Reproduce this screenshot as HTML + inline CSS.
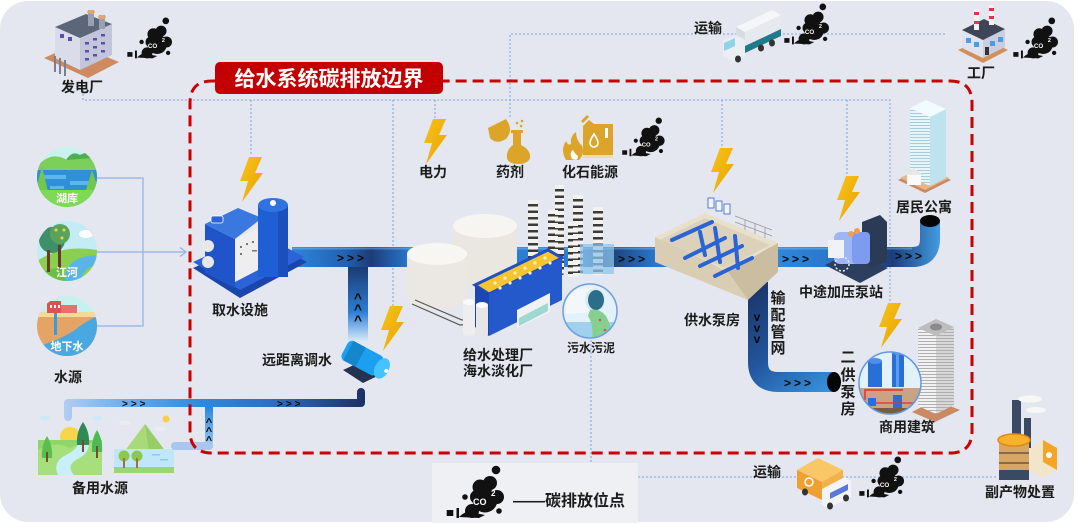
<!DOCTYPE html>
<html><head><meta charset="utf-8">
<style>
html,body{margin:0;padding:0;background:#fff;}
svg{display:block;}
text{font-family:"Liberation Sans","Noto Sans CJK SC",sans-serif;font-weight:bold;}
.l{font-size:14px;fill:#1b1b1b;text-anchor:middle;}
.w{font-size:11px;fill:#fff;text-anchor:middle;}
.ar{font-size:12px;fill:#0a0a0a;letter-spacing:3px;}
.c2{font-size:8px;fill:#fff;font-family:"Liberation Sans",sans-serif;}
</style></head><body>
<svg width="1080" height="523" viewBox="0 0 1080 523" xmlns="http://www.w3.org/2000/svg">
<defs>
<linearGradient id="gMain" gradientUnits="userSpaceOnUse" x1="290" y1="0" x2="945" y2="0">
<stop offset="0" stop-color="#2f86dc"/><stop offset="0.085" stop-color="#2262b0"/><stop offset="0.123" stop-color="#1c3c78"/><stop offset="0.185" stop-color="#2a7ad0"/><stop offset="0.44" stop-color="#2d7fd4"/><stop offset="0.477" stop-color="#1b3768"/><stop offset="0.56" stop-color="#2a78cf"/><stop offset="0.75" stop-color="#2f86da"/><stop offset="0.84" stop-color="#2a72c6"/><stop offset="0.92" stop-color="#1c3d7a"/><stop offset="1" stop-color="#46a6ec"/>
</linearGradient>
<linearGradient id="gDist" gradientUnits="userSpaceOnUse" x1="758" y1="282" x2="834" y2="392">
<stop offset="0" stop-color="#1b3568"/><stop offset="0.5" stop-color="#22549c"/><stop offset="1" stop-color="#3896e2"/>
</linearGradient>
<linearGradient id="gPumpV" x1="0" y1="0" x2="0" y2="1">
<stop offset="0" stop-color="#1c3a74"/><stop offset="0.6" stop-color="#2b7ed4"/><stop offset="1" stop-color="#dcedfb"/>
</linearGradient>
<linearGradient id="gLow" gradientUnits="userSpaceOnUse" x1="64" y1="0" x2="366" y2="0">
<stop offset="0" stop-color="#b2cdf2"/><stop offset="0.25" stop-color="#5aa6ee"/><stop offset="0.45" stop-color="#2b8be0"/><stop offset="0.7" stop-color="#2a6ec4"/><stop offset="1" stop-color="#1d2f60"/>
</linearGradient>
<linearGradient id="gBr" x1="0" y1="0" x2="0" y2="1">
<stop offset="0" stop-color="#2a86de"/><stop offset="1" stop-color="#9ccaf2"/>
</linearGradient>
<linearGradient id="gBolt" x1="0" y1="0" x2="1" y2="1">
<stop offset="0" stop-color="#f8c21a"/><stop offset="1" stop-color="#e9a300"/>
</linearGradient>
<pattern id="pWin" width="4" height="3" patternUnits="userSpaceOnUse"><rect width="4" height="3" fill="none"/><rect y="2" width="4" height="0.8" fill="#9dbfd0"/></pattern>
<pattern id="pStr" width="4" height="3" patternUnits="userSpaceOnUse"><rect y="2" width="4" height="0.9" fill="#a9a9a9"/></pattern>
<g id="bolt"><path d="M11,0 H24 L17,16 H25 L4,45 L10,24 H2 Z" fill="url(#gBolt)"/></g>
<g id="cloud">
<rect x="1.7" y="45" width="6.6" height="6" fill="#111"/>
<rect x="11.5" y="43" width="2.5" height="10" fill="#111"/>
<circle cx="35" cy="22" r="7.5" fill="#111"/>
<circle cx="45" cy="18" r="7" fill="#111"/>
<circle cx="40" cy="35" r="12.5" fill="#111"/>
<circle cx="27" cy="46" r="7" fill="#111"/>
<circle cx="52" cy="32" r="7" fill="#111"/>
<circle cx="32" cy="32" r="7" fill="#111"/>
<path d="M14,52 Q22,44 30,48 L40,50 L34,53 Z" fill="#111"/>
<circle cx="20" cy="32" r="2.8" fill="#111"/>
<circle cx="51" cy="5" r="4.3" fill="#111"/>
<circle cx="54" cy="46" r="2.8" fill="#111"/>
</g>
<clipPath id="cp1"><circle cx="67" cy="177" r="30"/></clipPath>
<clipPath id="cp2"><circle cx="67" cy="251" r="30"/></clipPath>
<clipPath id="cp3"><circle cx="67" cy="326" r="30"/></clipPath>
<clipPath id="cp4"><circle cx="590" cy="311" r="27"/></clipPath>
<clipPath id="cp5"><circle cx="890" cy="383" r="31"/></clipPath>
</defs>

<!-- card -->
<rect x="0" y="1" width="1074" height="521" rx="28" fill="#e4e7ef"/>

<!-- dotted lines -->
<g stroke="#7fa3dd" stroke-width="1" stroke-dasharray="2 2" fill="none">
<path d="M83,90 V100 H890 V303"/>
<path d="M251,100 V156"/>
<path d="M393,100 V306"/>
<path d="M435,100 V118"/>
<path d="M722,100 V148"/>
<path d="M847,100 V177"/>
<path d="M510,117 V34 H947"/>
<path d="M591,340 V477 H998"/>
</g>

<!-- water source connectors -->
<g stroke="#8fb0e3" stroke-width="1.2" fill="none">
<path d="M97,178 H143 V326 H97"/>
<path d="M97,252 H186"/>
<path d="M180,247.5 L186,252 L180,256.5"/>
</g>

<!-- water source circles -->
<g clip-path="url(#cp1)">
<rect x="36" y="146" width="62" height="62" fill="#c9f2ee"/>
<path d="M36,168 Q50,150 67,160 Q82,148 98,163 V182 H36 Z" fill="#7ccf5a"/>
<path d="M66,160 Q72,150 80,155 Q88,150 92,158 Z" fill="#4caf50"/>
<rect x="36" y="170" width="62" height="22" fill="#2f8fd8"/>
<rect x="44" y="175" width="22" height="4" fill="#5fb6ec"/>
<rect x="70" y="181" width="20" height="4" fill="#5fb6ec"/>
<rect x="50" y="186" width="14" height="3" fill="#5fb6ec"/>
<path d="M36,208 V190 L42,166 L48,192 L56,190 Z" fill="#72c84c"/>
<path d="M98,208 V188 L92,170 L86,190 L80,192 Z" fill="#72c84c"/>
<rect x="36" y="190" width="62" height="18" fill="#7ed957"/>
</g>
<text class="w" x="67" y="202">湖库</text>
<g clip-path="url(#cp2)">
<rect x="36" y="220" width="62" height="62" fill="#c3ecf4"/>
<ellipse cx="86" cy="234" rx="7" ry="4" fill="#fff"/>
<path d="M36,262 Q60,244 98,250 V282 H36 Z" fill="#8bcf4f"/>
<path d="M66,282 Q62,266 80,258 Q92,254 98,256 V265 Q84,266 80,282 Z" fill="#5ab4e6"/>
<path d="M36,282 Q40,268 62,268 L66,282 Z" fill="#6bbf45"/>
<circle cx="52" cy="240" r="13" fill="#3f8f6b"/>
<circle cx="60" cy="234" r="10" fill="#5aa35a"/>
<circle cx="56" cy="230" r="1.5" fill="#f3d34a"/><circle cx="62" cy="238" r="1.5" fill="#f3d34a"/><circle cx="64" cy="230" r="1.5" fill="#f3d34a"/>
<rect x="47" y="250" width="3" height="22" fill="#6b3b2a"/>
<rect x="58" y="245" width="3" height="24" fill="#6b3b2a"/>
</g>
<text class="w" x="67" y="276">江河</text>
<g clip-path="url(#cp3)">
<rect x="36" y="295" width="62" height="62" fill="#c7f1ee"/>
<rect x="36" y="313" width="62" height="44" fill="#e3a466"/>
<rect x="36" y="312" width="62" height="5" fill="#f3d99a"/>
<rect x="47" y="301" width="14" height="12" fill="#d9534f"/>
<rect x="61" y="305" width="16" height="8" fill="#e27470"/>
<rect x="50" y="305" width="2" height="3" fill="#fff"/><rect x="54" y="305" width="2" height="3" fill="#fff"/><rect x="58" y="305" width="2" height="3" fill="#fff"/>
<rect x="54" y="313" width="3" height="22" fill="#3b9be0"/>
<path d="M36,347 Q66,338 80,326 Q92,318 98,316 V357 H36 Z" fill="#4aa8e0"/>
</g>
<text class="w" x="67" y="350">地下水</text>

<!-- backup water scenes -->
<g>
<ellipse cx="45" cy="418" rx="5" ry="2.5" fill="#cfe8f5"/>
<ellipse cx="97" cy="418" rx="5" ry="2.5" fill="#cfe8f5"/>
<circle cx="70" cy="437" r="10" fill="#f9d649"/>
<rect x="38" y="440" width="64" height="35" fill="#8fd56a"/>
<path d="M38,450 Q55,440 70,448 Q86,440 102,446 V475 H38 Z" fill="#a7df7c"/>
<path d="M58,475 Q52,462 66,455 Q80,448 78,440 L88,440 Q92,452 76,460 Q66,466 74,475 Z" fill="#c8f0fb"/>
<path d="M47,436 Q53,446 52,458 H42 Q41,446 47,436 Z" fill="#5bbf4f"/><rect x="46" y="452" width="2" height="10" fill="#7a4a2a"/>
<path d="M83,422 Q90,432 89,445 H77 Q76,432 83,422 Z" fill="#2e8b57"/><rect x="82" y="440" width="2" height="12" fill="#7a4a2a"/>
<path d="M97,430 Q103,440 102,452 H92 Q91,440 97,430 Z" fill="#4cba55"/><rect x="96" y="446" width="2" height="12" fill="#7a4a2a"/>
</g>
<g>
<ellipse cx="125" cy="423" rx="6" ry="2.5" fill="#ecebf2"/>
<ellipse cx="160" cy="429" rx="6" ry="2.5" fill="#ecebf2"/>
<circle cx="166" cy="419" r="3.5" fill="#f7cf4a"/>
<path d="M118,460 L145,424 L172,460 Z" fill="#a8d97a"/>
<path d="M145,424 L172,460 H150 Z" fill="#97cd68"/>
<rect x="114" y="449" width="60" height="22" fill="#c0e7f7"/>
<rect x="152" y="454" width="8" height="1.5" fill="#8ccbea"/><rect x="160" y="459" width="8" height="1.5" fill="#8ccbea"/>
<rect x="114" y="467" width="60" height="6" fill="#9ad674"/>
<circle cx="124" cy="456" r="5.5" fill="#8cc84b"/><rect x="123" y="458" width="2" height="10" fill="#a0704a"/>
<circle cx="137" cy="456" r="5.5" fill="#8cc84b"/><rect x="136" y="458" width="2" height="10" fill="#a0704a"/>
</g>

<!-- pipes -->
<path d="M292,257 H912 Q930,257 930,239 V222" stroke="url(#gMain)" stroke-width="20" fill="none"/>
<path d="M292,248.5 H912" stroke="#7fc0f5" stroke-width="2" opacity="0.45" fill="none"/>
<ellipse cx="930" cy="221" rx="10" ry="6" fill="#060606"/>
<rect x="348" y="267" width="20" height="75" fill="url(#gPumpV)"/>
<path d="M758,282 V362 Q758,382 778,382 H834" stroke="url(#gDist)" stroke-width="20" fill="none"/>
<ellipse cx="834" cy="382" rx="7" ry="10" fill="#060606"/>
<path d="M68,417 V403 H361 V392" stroke="url(#gLow)" stroke-width="8" fill="none" stroke-linecap="round" stroke-linejoin="round"/>
<rect x="205" y="407" width="8" height="40" fill="url(#gBr)"/>
<rect x="171" y="442" width="42" height="8" rx="4" fill="#a9c6ee"/>
<rect x="205" y="442" width="8" height="6" fill="#a9c6ee"/>

<!-- pipe arrows -->
<text class="ar" x="337" y="262">&gt;&gt;&gt;</text>
<text class="ar" x="618" y="263">&gt;&gt;&gt;</text>
<text class="ar" x="782" y="263">&gt;&gt;&gt;</text>
<text class="ar" x="895" y="260">&gt;&gt;&gt;</text>
<text class="ar" x="784" y="387">&gt;&gt;&gt;</text>
<text class="ar" style="font-size:10px" x="122" y="407">&gt;&gt;&gt;</text>
<text class="ar" style="font-size:10px" x="277" y="407">&gt;&gt;&gt;</text>
<g style="font-size:14px;fill:#0a0a0a;text-anchor:middle">
<text x="358" y="303">^</text><text x="358" y="314">^</text><text x="358" y="325">^</text>
</g>
<g style="font-size:11px;fill:#0a0a0a;text-anchor:middle">
<text x="209" y="426">^</text><text x="209" y="435">^</text><text x="209" y="444">^</text>
</g>
<g style="font-size:12px;fill:#0a0a0a;text-anchor:middle">
<text x="757" y="321">v</text><text x="757" y="332">v</text><text x="757" y="343">v</text>
</g>

<!-- 发电厂 -->
<g>
<polygon points="44,58 88,78 119,62 75,44" fill="#cf8b5f"/>
<polygon points="55,27 80,38 80,70 55,58" fill="#dadcea"/>
<polygon points="80,38 112,24 112,55 80,70" fill="#c3c6db"/>
<polygon points="55,27 80,38 112,24 86,14" fill="#5c6679"/>
<rect x="60" y="34" width="4" height="4" fill="#5a4fb0"/><rect x="68" y="37" width="4" height="4" fill="#5a4fb0"/>
<g fill="#5a4fb0"><rect x="85" y="42" width="4" height="2.5"/><rect x="93" y="38" width="4" height="2.5"/><rect x="101" y="34" width="4" height="2.5"/><rect x="85" y="50" width="4" height="2.5"/><rect x="93" y="46" width="4" height="2.5"/><rect x="101" y="42" width="4" height="2.5"/><rect x="85" y="58" width="4" height="2.5"/><rect x="93" y="54" width="4" height="2.5"/><rect x="101" y="50" width="4" height="2.5"/></g>
<rect x="88" y="10" width="6" height="16" fill="#9aa0b4"/><ellipse cx="91" cy="12" rx="4" ry="2" fill="#e5a66a"/>
<rect x="99" y="15" width="6" height="14" fill="#9aa0b4"/><ellipse cx="102" cy="17" rx="4" ry="2" fill="#e5a66a"/>
<g stroke="#7a8094" stroke-width="2" fill="none"><path d="M55,56 V72"/><path d="M60,58 V74"/><path d="M65,60 V76"/></g>
</g>
<g transform="translate(126,17) scale(0.78)"><use href="#cloud"/><text class="c2" x="28" y="40">CO</text><text class="c2" x="46" y="32" style="font-size:7px">2</text></g>

<!-- top truck -->
<g>
<polygon points="736,27 772,10 781,15 745,32" fill="#f4f6f8"/>
<polygon points="745,32 781,15 781,36 745,53" fill="#e6eaee"/>
<polygon points="745,46 781,29 781,36 745,53" fill="#1f7a8c"/>
<polygon points="736,27 745,32 745,53 736,48" fill="#d8dde2"/>
<polygon points="723,41 736,35 745,40 745,57 733,61 723,56" fill="#e9eff3"/>
<polygon points="724,43 735,38 735,46 724,51" fill="#8fd3e8"/>
<ellipse cx="738" cy="59" rx="3" ry="3.5" fill="#333"/><ellipse cx="761" cy="48" rx="3" ry="3.5" fill="#333"/><ellipse cx="772" cy="43" rx="3" ry="3.5" fill="#333"/>
</g>
<g transform="translate(783,3) scale(0.78)"><use href="#cloud"/><text class="c2" x="28" y="40">CO</text><text class="c2" x="46" y="32" style="font-size:7px">2</text></g>

<!-- 工厂 -->
<g>
<polygon points="958,50 983,63 1008,50 983,38" fill="#d28f5c"/>
<polygon points="962,30 983,40 983,58 962,48" fill="#dfe3ee"/>
<polygon points="983,40 1005,29 1005,47 983,58" fill="#c9cfe0"/>
<polygon points="962,30 983,40 1005,29 984,19" fill="#3d4556"/>
<rect x="966" y="38" width="5" height="5" fill="#4a9be8"/><rect x="974" y="42" width="5" height="5" fill="#4a9be8"/>
<rect x="990" y="41" width="5" height="5" fill="#4a9be8"/><rect x="998" y="37" width="5" height="5" fill="#4a9be8"/>
<rect x="985" y="47" width="4" height="8" fill="#333"/>
<rect x="974" y="9" width="5" height="21" fill="#f2f2f2"/><rect x="974" y="12" width="5" height="3" fill="#e0344a"/><rect x="974" y="21" width="5" height="3" fill="#e0344a"/>
<rect x="989" y="5" width="5" height="20" fill="#f2f2f2"/><rect x="989" y="8" width="5" height="3" fill="#e0344a"/><rect x="989" y="16" width="5" height="3" fill="#e0344a"/>
</g>
<g transform="translate(1012,17) scale(0.78)"><use href="#cloud"/><text class="c2" x="28" y="40">CO</text><text class="c2" x="46" y="32" style="font-size:7px">2</text></g>

<!-- top resources -->
<use href="#bolt" transform="translate(422,119)"/>
<g fill="#dca52a">
<path d="M488,128 L506,119 Q514,130 506,139 Q496,145 490,138 Z"/>
<rect x="511" y="130" width="12" height="3"/>
<path d="M513,133 H521 V145 Q531,150 530,158 Q528,164 518,164 Q508,164 507,158 Q506,150 513,145 Z"/>
<circle cx="517" cy="123" r="1.3"/><circle cx="522" cy="121" r="1.3"/><circle cx="521" cy="126" r="1.3"/>
</g>
<g>
<path d="M566,160 Q560,150 566,141 Q568,146 571,144 Q570,136 576,132 Q576,140 582,146 Q585,154 579,160 Z" fill="#dca52a"/>
<path d="M572,159 Q569,153 573,150 Q575,154 578,156 Q578,159 576,160 Z" fill="#fff"/>
<path d="M583,126 L589,120 L594,124 H613 V158 H583 Z" fill="#dca52a"/>
<rect x="583" y="155" width="30" height="3" fill="#fff" opacity="0.6"/>
<rect x="605" y="128" width="3" height="10" fill="#fff"/>
<path d="M594,134 Q598,140 598,143 A4,4 0 0 1 590,143 Q590,140 594,134 Z" fill="none" stroke="#fff" stroke-width="1.6"/>
<path d="M582,122 L588,116" stroke="#dca52a" stroke-width="3"/>
</g>
<g transform="translate(621,117) scale(0.74)"><use href="#cloud"/><text class="c2" x="28" y="40">CO</text><text class="c2" x="46" y="32" style="font-size:7px">2</text></g>

<!-- 取水设施 -->
<use href="#bolt" transform="translate(238,157)"/>
<g>
<polygon points="193,268 240,298 307,262 262,238" fill="#1a45ad"/>
<polygon points="193,262 240,290 304,257 258,232" fill="#2c63d8"/>
<polygon points="205,224 235,239 235,288 205,273" fill="#1f55c9"/>
<polygon points="205,224 238,208 262,218 235,239" fill="#3a78e0"/>
<circle cx="208" cy="246" r="6" fill="#e8e8e8"/><circle cx="208" cy="262" r="6" fill="#e8e8e8"/>
<polygon points="235,239 262,226 262,268 235,282" fill="#eeeeee"/>
<g fill="#777"><rect x="240" y="246" width="2" height="2"/><rect x="246" y="243" width="2" height="2"/><rect x="240" y="253" width="2" height="2"/><rect x="252" y="241" width="2" height="2"/><rect x="252" y="250" width="5" height="1.5"/></g>
<rect x="258" y="205" width="30" height="72" fill="#1f5fd6"/>
<rect x="278" y="205" width="10" height="72" fill="#1a4fbc"/>
<ellipse cx="273" cy="205" rx="15" ry="7" fill="#2f72e0"/>
<circle cx="273" cy="203" r="3" fill="#fff"/>
<rect x="211" y="216" width="12" height="7" rx="2" fill="#2c63d8" stroke="#fff" stroke-width="0.8"/>
</g>

<!-- pump -->
<use href="#bolt" transform="translate(379,306)"/>
<g>
<polygon points="343,370 363,383 388,371 367,359" fill="#22344f"/>
<g transform="rotate(28 366 360)">
<rect x="342" y="349" width="40" height="22" rx="5" fill="#1aa0ee"/>
<rect x="346" y="349" width="14" height="22" fill="#1585cc"/>
<ellipse cx="384" cy="360" rx="7" ry="11" fill="#45c3ff"/>
<circle cx="389" cy="360" r="2" fill="#fff"/>
</g>
</g>

<!-- treatment plant -->
<g>
<g fill="#3a3a3a">
<rect x="528" y="200" width="10" height="80" rx="2"/>
<rect x="548" y="210" width="10" height="70" rx="2"/>
<rect x="555" y="185" width="9" height="90" rx="2"/>
<rect x="573" y="195" width="10" height="80" rx="2"/>
<rect x="568" y="222" width="10" height="55" rx="2"/>
<rect x="593" y="207" width="10" height="68" rx="2"/>
</g>
<g stroke="#f3f2ef" stroke-width="10" stroke-dasharray="4 2.5" fill="none">
<path d="M533,200 V280"/><path d="M553,210 V280"/><path d="M559.5,185 V275" stroke-width="9"/><path d="M578,195 V275"/><path d="M573,222 V277"/><path d="M598,207 V275"/>
</g>
<rect x="580" y="244" width="34" height="30" fill="#8ec6ee" opacity="0.75"/>
<path d="M453,226 V278 A32,11 0 0 0 517,278 V226 Z" fill="#eae7e1"/>
<ellipse cx="485" cy="226" rx="32" ry="12" fill="#f6f5f2"/>
<path d="M407,254 V298 A30,11 0 0 0 467,298 V254 Z" fill="#ebe8e3"/>
<ellipse cx="437" cy="254" rx="30" ry="11" fill="#f7f6f3"/>
<path d="M415,300 L462,320 L478,318" stroke="#555" stroke-width="1.2" fill="none"/>
<path d="M412,304 L460,325 L475,324" stroke="#555" stroke-width="1.2" fill="none"/>
<polygon points="475,285 548,250 562,258 489,294" fill="#f5c531" stroke="#1f4fc0" stroke-width="3"/>
<polygon points="475,285 489,294 489,336 475,327" fill="#1c46b0"/>
<polygon points="489,294 562,258 562,300 489,336" fill="#2459cc"/>
<g fill="#fdf0c0"><circle cx="495" cy="283" r="1.6"/><circle cx="505" cy="278" r="1.6"/><circle cx="515" cy="273" r="1.6"/><circle cx="525" cy="268" r="1.6"/><circle cx="535" cy="263" r="1.6"/><circle cx="545" cy="258" r="1.6"/><circle cx="500" cy="288" r="1.6"/><circle cx="510" cy="283" r="1.6"/><circle cx="520" cy="278" r="1.6"/><circle cx="530" cy="273" r="1.6"/><circle cx="540" cy="268" r="1.6"/><circle cx="550" cy="263" r="1.6"/></g>
<polygon points="517,310 550,293 550,312 517,328" fill="#eef2f2"/>
<polygon points="519,318 548,303 548,311 519,326" fill="#9fd8d0"/>
<path d="M463,302 V333 A6,3 0 0 0 475,333 V302 Z" fill="#eeeeee"/><ellipse cx="469" cy="302" rx="6" ry="3" fill="#fafafa"/>
<path d="M476,305 V334 A6,3 0 0 0 488,334 V305 Z" fill="#e6e6e6"/><ellipse cx="482" cy="305" rx="6" ry="3" fill="#fafafa"/>
</g>

<!-- 污水污泥 -->
<g clip-path="url(#cp4)">
<rect x="562" y="283" width="56" height="56" fill="#e3f2fa"/>
<rect x="562" y="322" width="56" height="18" fill="#9fd0ee"/>
<path d="M566,290 L594,288 L594,312 L566,314 Z" fill="#f3f7fa"/>
<ellipse cx="595" cy="300" rx="10" ry="12" fill="#d6ecf6"/>
<ellipse cx="596" cy="300" rx="8" ry="10" fill="#2c6e8a"/>
<path d="M590,310 Q600,308 606,316 Q612,326 612,340 H592 Q594,325 588,316 Z" fill="#86cf8f"/>
<circle cx="600" cy="320" r="1.3" fill="#d9534f"/><circle cx="605" cy="330" r="1.3" fill="#d9534f"/>
</g>
<circle cx="590" cy="311" r="27" fill="none" stroke="#6a9fe0" stroke-width="1.5"/>

<!-- 供水泵房 -->
<use href="#bolt" transform="translate(709,148)"/>
<g>
<polygon points="655,237 705,213 778,243 728,272" fill="#e9e0cb"/>
<polygon points="655,237 728,272 748,300 655,262" fill="#d9cdb3"/>
<polygon points="728,272 778,243 778,272 748,300" fill="#cbbd9f"/>
<polygon points="660,240 705,218 770,245 725,268" fill="#dcd2bb"/>
<g stroke="#2a63d4" stroke-width="4" fill="none" stroke-linecap="round">
<path d="M672,240 L712,222"/><path d="M685,258 L725,238"/><path d="M700,266 L742,246"/><path d="M715,276 L752,258"/>
<path d="M700,232 L705,255"/><path d="M715,228 L720,262"/><path d="M735,236 L738,268"/>
</g>
<g fill="#f4f4f4" stroke="#2a63d4" stroke-width="0.8"><rect x="708" y="198" width="6" height="10"/><rect x="716" y="201" width="6" height="10"/><rect x="724" y="204" width="6" height="10"/></g>
<path d="M735,216 L772,230 M735,222 L772,236 M745,220 V230 M755,224 V234 M765,228 V238" stroke="#9a9a9a" stroke-width="0.8"/>
</g>

<!-- 中途加压泵站 -->
<use href="#bolt" transform="translate(835,176)"/>
<g>
<polygon points="825,265 860,283 888,268 853,251" fill="#2d3f5e"/>
<polygon points="862,222 880,215 887,222 887,262 870,268 862,262" fill="#2b3a55"/>
<rect x="834" y="232" width="36" height="32" rx="6" fill="#9fb6f5"/>
<rect x="852" y="232" width="18" height="32" rx="4" fill="#7d9cef"/>
<rect x="828" y="240" width="16" height="18" fill="#f0f2f8"/>
<circle cx="851" cy="234" r="3" fill="#f0a050"/><circle cx="857" cy="231" r="3" fill="#f0a050"/>
<circle cx="842" cy="264" r="7" fill="none" stroke="#e8eefc" stroke-width="1.5" stroke-dasharray="2 2"/>
</g>

<!-- 居民公寓 -->
<g>
<polygon points="898,180 925,193 951,180 925,167" fill="#c98a63"/>
<polygon points="900,178 925,190 949,178 925,166" fill="#e9b58c"/>
<polygon points="910,108 930,117 930,186 910,177" fill="#e4f6fb"/>
<polygon points="910,108 930,117 930,186 910,177" fill="url(#pWin)"/>
<polygon points="930,117 946,109 946,178 930,186" fill="#bfe3ee"/>
<polygon points="910,108 926,100 946,109 930,117" fill="#f2fbfd"/>
<rect x="907" y="174" width="14" height="11" fill="#fafafa"/><polygon points="905,175 914,168 923,175" fill="#e8e8e8"/>
</g>

<!-- 商用建筑 -->
<use href="#bolt" transform="translate(877,303)"/>
<g>
<polygon points="912,412 935,422 960,410 935,400" fill="#c98a63"/>
<polygon points="918,328 936,336 936,414 918,406" fill="#f2f2f2"/>
<polygon points="918,328 936,336 936,414 918,406" fill="url(#pStr)"/>
<polygon points="936,336 954,327 954,405 936,414" fill="#d8d8d8"/>
<polygon points="936,336 954,327 954,405 936,414" fill="url(#pStr)"/>
<polygon points="918,328 936,319 954,327 936,336" fill="#bdbdbd"/>
<ellipse cx="936" cy="327" rx="6" ry="3.5" fill="#8a8a8a"/>
</g>

<!-- 二供泵房 circle -->
<g clip-path="url(#cp5)">
<rect x="858" y="351" width="64" height="64" fill="#e2f2fb"/>
<rect x="858" y="388" width="64" height="27" fill="#c9a383"/>
<rect x="858" y="408" width="64" height="7" fill="#7c5a3f"/>
<rect x="868" y="361" width="14" height="26" fill="#2a6fd6"/><ellipse cx="875" cy="361" rx="7" ry="3" fill="#4d8ee8"/>
<rect x="892" y="352" width="12" height="35" fill="#2a6fd6"/><ellipse cx="898" cy="352" rx="6" ry="3" fill="#4d8ee8"/>
<rect x="896" y="352" width="3" height="35" fill="#5a9cf0"/>
<path d="M865,400 V390 H903" stroke="#e03030" stroke-width="1.5" fill="none"/>
<rect x="868" y="398" width="8" height="8" fill="#2a6fd6"/>
<rect x="893" y="395" width="9" height="13" fill="#2a6fd6"/>
<path d="M876,403 H914" stroke="#e03030" stroke-width="1.2"/>
</g>
<circle cx="890" cy="383" r="31" fill="none" stroke="#5f98e4" stroke-width="1.5"/>

<!-- 副产物处置 -->
<g>
<rect x="1012" y="400" width="9" height="48" fill="#3b4a63"/>
<rect x="1024" y="418" width="7" height="30" fill="#3b4a63"/>
<ellipse cx="1030" cy="399" rx="12" ry="3.5" fill="#f7f7f7"/>
<ellipse cx="1036" cy="410" rx="10" ry="3" fill="#f7f7f7"/>
<polygon points="1028,450 1043,440 1057,448 1057,470 1042,478 1028,470" fill="#f1e6cc"/>
<polygon points="1043,440 1057,448 1057,470 1043,462" fill="#f5a524"/>
<circle cx="1049" cy="455" r="3" fill="#fff"/>
<rect x="999" y="440" width="30" height="40" fill="#d7a565"/>
<rect x="999" y="452" width="30" height="2" fill="#8a6a45"/><rect x="999" y="462" width="30" height="2" fill="#8a6a45"/>
<rect x="999" y="470" width="30" height="10" fill="#3b4a63"/>
<ellipse cx="1014" cy="440" rx="16" ry="6" fill="#f7b12a" stroke="#e08b10" stroke-width="1.5"/>
</g>

<!-- bottom truck -->
<g>
<polygon points="797,470 818,458 843,470 822,482" fill="#f9c766"/>
<polygon points="797,470 822,482 822,500 797,488" fill="#f0a030"/>
<polygon points="822,482 843,470 843,478 822,490" fill="#f3b14a"/>
<circle cx="809" cy="482" r="4" fill="none" stroke="#fff" stroke-width="1.5"/>
<polygon points="822,489 845,477 851,481 851,497 828,508 822,505" fill="#f2f4f8"/>
<polygon points="830,493 848,484 848,490 830,499" fill="#5a78d8"/>
<ellipse cx="805" cy="492" rx="3" ry="3.5" fill="#333"/><ellipse cx="830" cy="506" rx="3" ry="3.5" fill="#333"/><ellipse cx="846" cy="498" rx="3" ry="3.5" fill="#333"/>
</g>
<g transform="translate(858,456) scale(0.78)"><use href="#cloud"/><text class="c2" x="28" y="40">CO</text><text class="c2" x="46" y="32" style="font-size:7px">2</text></g>

<!-- red boundary -->
<path d="M215,81 H212 Q190,81 190,103 V431 Q190,453 212,453 H950 Q972,453 972,431 V103 Q972,81 950,81 H443" fill="none" stroke="#cc0000" stroke-width="3" stroke-dasharray="11 6"/>
<rect x="215" y="62" width="228" height="32" rx="5" fill="#c20000"/>
<text x="329" y="86" style="font-size:21px;fill:#fff;text-anchor:middle">给水系统碳排放边界</text>

<!-- legend -->
<rect x="432" y="463" width="206" height="60" fill="#eef0f3"/>
<g transform="translate(445,465)"><use href="#cloud"/><text class="c2" x="28" y="40" style="font-size:9px">CO</text><text class="c2" x="46" y="31" style="font-size:8px">2</text></g>
<text x="513" y="506" style="font-size:16px;fill:#1b1b1b">——碳排放位点</text>

<!-- labels -->
<text class="l" x="82" y="92">发电厂</text>
<text class="l" x="708" y="33">运输</text>
<text class="l" x="981" y="78">工厂</text>
<text class="l" x="433" y="177">电力</text>
<text class="l" x="510" y="177">药剂</text>
<text class="l" x="590" y="177">化石能源</text>
<text class="l" x="924" y="212">居民公寓</text>
<text class="l" x="240" y="315">取水设施</text>
<text class="l" x="68" y="382">水源</text>
<text class="l" x="297" y="365">远距离调水</text>
<text class="l" x="498" y="360">给水处理厂</text>
<text class="l" x="498" y="376">海水淡化厂</text>
<text class="l" x="591" y="352" style="font-size:12px">污水污泥</text>
<text class="l" x="712" y="325">供水泵房</text>
<text class="l" x="841" y="297">中途加压泵站</text>
<text class="l" x="907" y="432">商用建筑</text>
<text class="l" x="100" y="493">备用水源</text>
<text class="l" x="767" y="477">运输</text>
<text class="l" x="1020" y="497">副产物处置</text>
<g class="l" style="font-size:15px">
<text class="l" x="778" y="303" style="font-size:15px">输</text>
<text class="l" x="778" y="320" style="font-size:15px">配</text>
<text class="l" x="778" y="337" style="font-size:15px">管</text>
<text class="l" x="778" y="353" style="font-size:15px">网</text>
<text class="l" x="848" y="362" style="font-size:15px">二</text>
<text class="l" x="848" y="380" style="font-size:15px">供</text>
<text class="l" x="848" y="397" style="font-size:15px">泵</text>
<text class="l" x="848" y="414" style="font-size:15px">房</text>
</g>
</svg>
</body></html>
